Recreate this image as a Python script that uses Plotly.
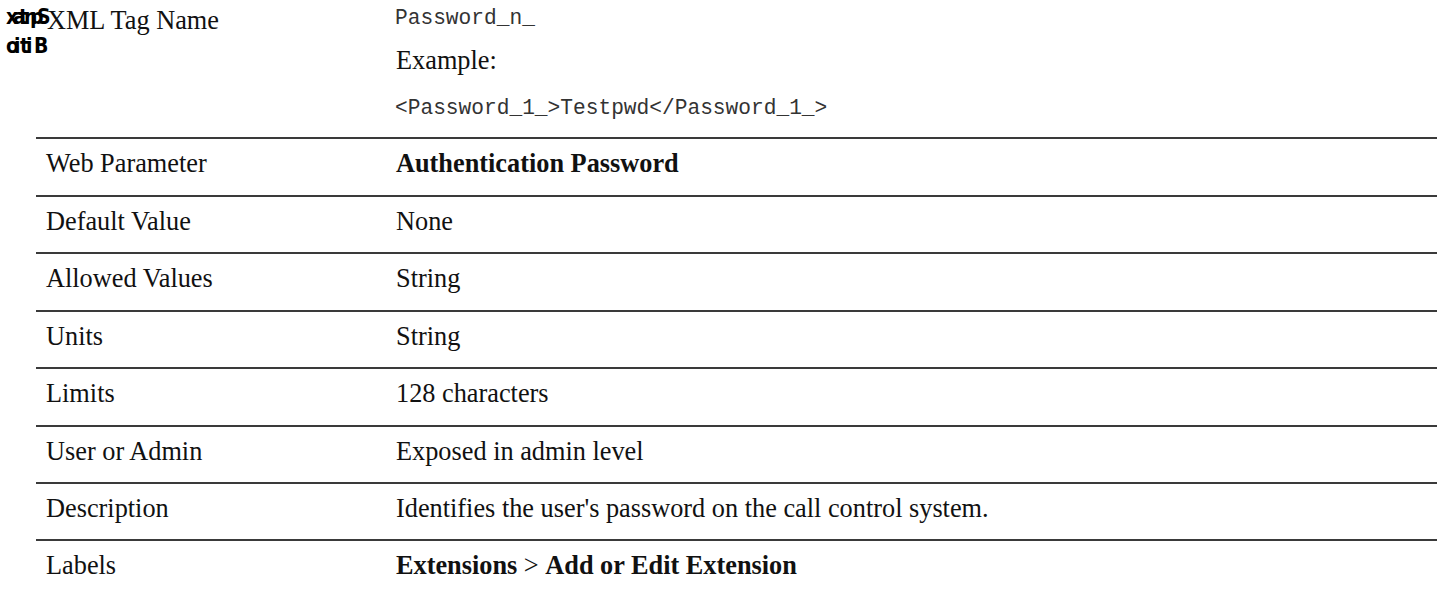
import plotly.graph_objects as go

W, H = 1442, 592

# ---- data ----
row_labels = ["Web Parameter", "Default Value", "Allowed Values", "Units",
              "Limits", "User or Admin", "Description", "Labels"]
row_values = ["<b>Authentication Password</b>", "None", "String", "String",
              "128 characters", "Exposed in admin level",
              "Identifies the user's password on the call control system.",
              "<b>Extensions</b> &gt; <b>Add or Edit Extension</b>"]
tag_label = "XML Tag Name"
tag_name = "Password_n_"
example_label = "Example:"
example_code = "&lt;Password_1_&gt;Testpwd&lt;/Password_1_&gt;"
side_glyph_rows = [list("xatnpS"), list("oitiB")]
side_glyph_x = [[4, 11, 17, 22, 28, 35], [4, 12, 18, 24, 32]]

# ---- layout constants ----
serif = "Liberation Serif, Times New Roman, serif"
mono = "Liberation Mono, Courier New, monospace"
line_ys = [138, 196, 253, 311, 368, 426, 483, 540]
x_left, x_right = 36, 1437
col1_x, col2_x = 44, 394
txt = "#111111"
fs = 26.3

fig = go.Figure()
fig.add_trace(go.Scatter(x=[0], y=[0], mode="markers",
                         marker=dict(opacity=0), hoverinfo="skip", showlegend=False))

shapes = []
annotations = []
for y in line_ys:
    shapes.append(dict(type="line", xref="x", yref="y", x0=x_left, x1=x_right,
                       y0=y, y1=y, line=dict(color="#3a3a3a", width=2)))
for i, (lab, val) in enumerate(zip(row_labels, row_values)):
    yc = line_ys[i] + 25
    for xx, t in ((col1_x, lab), (col2_x, val)):
        annotations.append(dict(x=xx, y=yc, xref="x", yref="y", text=t,
                                showarrow=False, xanchor="left", yanchor="middle",
                                font=dict(family=serif, size=fs, color=txt)))

# header block
annotations.append(dict(x=45, y=20, xref="x", yref="y", text=tag_label, showarrow=False,
                        xanchor="left", yanchor="middle",
                        font=dict(family=serif, size=fs, color=txt)))
annotations.append(dict(x=393, y=18, xref="x", yref="y", text=tag_name, showarrow=False,
                        xanchor="left", yanchor="middle",
                        font=dict(family=mono, size=21.2, color="#333333")))
annotations.append(dict(x=394, y=60, xref="x", yref="y", text=example_label, showarrow=False,
                        xanchor="left", yanchor="middle",
                        font=dict(family=serif, size=fs, color=txt)))
annotations.append(dict(x=393, y=108, xref="x", yref="y", text=example_code, showarrow=False,
                        xanchor="left", yanchor="middle",
                        font=dict(family=mono, size=21.2, color="#333333")))
for k, (chars, xs) in enumerate(zip(side_glyph_rows, side_glyph_x)):
    for ch, xx in zip(chars, xs):
        annotations.append(dict(x=xx, y=17 + k * 29, xref="x", yref="y", text="<b>" + ch + "</b>",
                                showarrow=False, xanchor="left", yanchor="middle",
                                font=dict(family="DejaVu Sans Condensed, DejaVu Sans, sans-serif",
                                          size=21, color="#000000")))

fig.update_layout(
    width=W, height=H, margin=dict(l=0, r=0, t=0, b=0),
    paper_bgcolor="white", plot_bgcolor="white",
    xaxis=dict(range=[0, W], visible=False, fixedrange=True),
    yaxis=dict(range=[H, 0], visible=False, fixedrange=True),
    shapes=shapes, annotations=annotations, showlegend=False,
)
fig.write_html("out.html", config={"displayModeBar": False},
               post_script="document.body.style.margin='0';document.body.style.overflow='hidden';")
